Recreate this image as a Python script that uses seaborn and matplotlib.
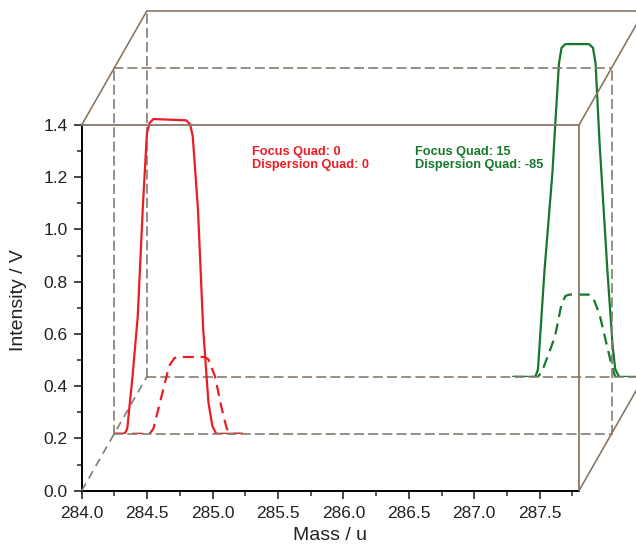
import numpy as np
import pandas as pd
import matplotlib
matplotlib.use("Agg")
import matplotlib.pyplot as plt
import seaborn as sns
from matplotlib.lines import Line2D
from matplotlib.ticker import MultipleLocator, FormatStrFormatter

# ---------------- data ----------------
# Red series (Focus Quad 0 / Dispersion Quad 0) -- drawn on the middle layer
red_solid_x = [284.00, 284.08, 284.10, 284.14, 284.18, 284.22, 284.25, 284.27, 284.30,
               284.55, 284.58, 284.60, 284.64, 284.68, 284.72, 284.75, 284.78, 284.98]
red_solid_y = [0.00, 0.00, 0.02, 0.22, 0.45, 0.88, 1.15, 1.19, 1.205,
               1.20, 1.185, 1.14, 0.86, 0.40, 0.12, 0.03, 0.00, 0.00]
red_dash_x = [284.00, 284.27, 284.30, 284.36, 284.42, 284.46, 284.49, 284.69,
              284.72, 284.77, 284.82, 284.86, 284.89, 284.98]
red_dash_y = [0.00, 0.00, 0.02, 0.14, 0.26, 0.29, 0.294, 0.294,
              0.285, 0.22, 0.10, 0.02, 0.00, 0.00]

# Green series (Focus Quad 15 / Dispersion Quad -85) -- drawn on the back layer
green_solid_x = [286.80, 286.97, 286.99, 287.04, 287.10, 287.12, 287.15, 287.17, 287.20,
                 287.38, 287.41, 287.43, 287.46, 287.52, 287.56, 287.58, 287.61, 287.80]
green_solid_y = [0.00, 0.00, 0.03, 0.41, 0.78, 0.95, 1.20, 1.26, 1.274,
                 1.274, 1.26, 1.20, 0.90, 0.41, 0.12, 0.03, 0.00, 0.00]
green_dash_x = [286.80, 286.99, 287.02, 287.08, 287.12, 287.17, 287.20, 287.23,
                287.38, 287.41, 287.46, 287.50, 287.55, 287.58, 287.62]
green_dash_y = [0.00, 0.00, 0.02, 0.10, 0.155, 0.28, 0.31, 0.315,
                0.315, 0.305, 0.24, 0.155, 0.05, 0.00, 0.00]

x_ticks = [284.0, 284.5, 285.0, 285.5, 286.0, 286.5, 287.0, 287.5]
y_ticks = [0.0, 0.2, 0.4, 0.6, 0.8, 1.0, 1.2, 1.4]

red_labels = ["Focus Quad: 0", "Dispersion Quad: 0"]
green_labels = ["Focus Quad: 15", "Dispersion Quad: -85"]

RED = "#ec1c24"
GREEN = "#16782c"
BOX = "#8a7766"
DASHBOX = "#857a70"

# ---------------- figure ----------------
sns.set_style("ticks")
plt.rcParams['font.family'] = ['Liberation Sans', 'DejaVu Sans']

W, H = 636, 547
fig = plt.figure(figsize=(W / 100, H / 100), dpi=100)

# layout in pixels (front plane) and per-layer depth offset
x0, x1 = 81.7, 579.0
yb, yt = 490.7, 125.0
ddx, ddy = 32.5, 56.9


def rect(layer):
    return [(x0 + ddx * layer) / W, (H - yb + ddy * layer) / H,
            (x1 - x0) / W, (yb - yt) / H]


ax_back = fig.add_axes(rect(2))
ax_mid = fig.add_axes(rect(1))
ax = fig.add_axes(rect(0))

for a in (ax_back, ax_mid, ax):
    a.set_xlim(284.0, 287.8)
    a.set_ylim(0.0, 1.4)
    a.patch.set_visible(False)

dash_box = (0, (5, 3.5))
for a in (ax_back, ax_mid):
    a.tick_params(left=False, bottom=False, labelleft=False, labelbottom=False)
    for s in a.spines.values():
        s.set_color(DASHBOX)
        s.set_linewidth(1.2)
        s.set_linestyle(dash_box)
ax_back.spines['top'].set_linestyle('-')
ax_back.spines['top'].set_color(BOX)
ax_back.spines['right'].set_linestyle('-')
ax_back.spines['right'].set_color(BOX)

# data
df_rs = pd.DataFrame({"x": red_solid_x, "y": red_solid_y})
df_rd = pd.DataFrame({"x": red_dash_x, "y": red_dash_y})
df_gs = pd.DataFrame({"x": green_solid_x, "y": green_solid_y})
df_gd = pd.DataFrame({"x": green_dash_x, "y": green_dash_y})

sns.lineplot(data=df_rs, x="x", y="y", ax=ax_mid, color=RED, lw=1.6,
             sort=False, estimator=None)
sns.lineplot(data=df_rd, x="x", y="y", ax=ax_mid, color=RED, lw=1.6,
             linestyle=(0, (5, 3)), sort=False, estimator=None)
sns.lineplot(data=df_gs, x="x", y="y", ax=ax_back, color=GREEN, lw=1.6,
             sort=False, estimator=None)
sns.lineplot(data=df_gd, x="x", y="y", ax=ax_back, color=GREEN, lw=1.6,
             linestyle=(0, (5, 3)), sort=False, estimator=None)
for a in (ax_back, ax_mid):
    a.set_xlabel("")
    a.set_ylabel("")

# front axes styling
ax.spines['left'].set_color('black')
ax.spines['bottom'].set_color('black')
ax.spines['left'].set_linewidth(1.4)
ax.spines['bottom'].set_linewidth(1.4)
ax.spines['top'].set_color(BOX)
ax.spines['right'].set_color(BOX)
ax.spines['top'].set_linewidth(1.3)
ax.spines['right'].set_linewidth(1.3)

ax.set_xticks(x_ticks)
ax.set_yticks(y_ticks)
ax.xaxis.set_major_formatter(FormatStrFormatter('%.1f'))
ax.yaxis.set_major_formatter(FormatStrFormatter('%.1f'))
ax.xaxis.set_minor_locator(MultipleLocator(0.25))
ax.yaxis.set_minor_locator(MultipleLocator(0.1))
ax.tick_params(which='major', direction='out', length=6, width=1.2,
               labelsize=12.5, pad=4, top=False, right=False,
               labelcolor='#222222')
ax.tick_params(which='minor', direction='out', length=3.5, width=1.1,
               top=False, right=False)
ax.tick_params(axis='x', which='major', pad=5)

ax.set_xlabel("Mass / u", fontsize=14, va='center', color='#222222')
ax.set_ylabel("Intensity / V", fontsize=14, va='center', color='#222222')
ax.xaxis.set_label_coords(0.5, (yb - 535) / (yb - yt))
ax.yaxis.set_label_coords((18 - x0) / (x1 - x0), (yb - 300) / (yb - yt))

# depth edges of the box (figure pixel geometry)
def fig_line(px, py, ls='-', color=BOX):
    fig.add_artist(Line2D([p / W for p in px], [1 - p / H for p in py],
                          transform=fig.transFigure, color=color, lw=1.2,
                          linestyle=ls, zorder=1))

fig_line([x0, x0 + 2 * ddx], [yt, yt - 2 * ddy])
fig_line([x0, x0 + 2 * ddx], [yb, yb - 2 * ddy], ls=dash_box, color=DASHBOX)
fig_line([x1, x1 + 2 * ddx], [yt, yt - 2 * ddy])
fig_line([x1, x1 + 2 * ddx], [yb, yb - 2 * ddy])

# annotations
for i, (lr, lg) in enumerate(zip(red_labels, green_labels)):
    yy = 1.297 - 0.051 * i
    ax.text(285.30, yy, lr, color=RED, fontsize=9.2,
            fontweight='bold', va='center', ha='left')
    ax.text(286.55, yy, lg, color=GREEN, fontsize=9.2,
            fontweight='bold', va='center', ha='left')

fig.savefig("out.png", dpi=100)
